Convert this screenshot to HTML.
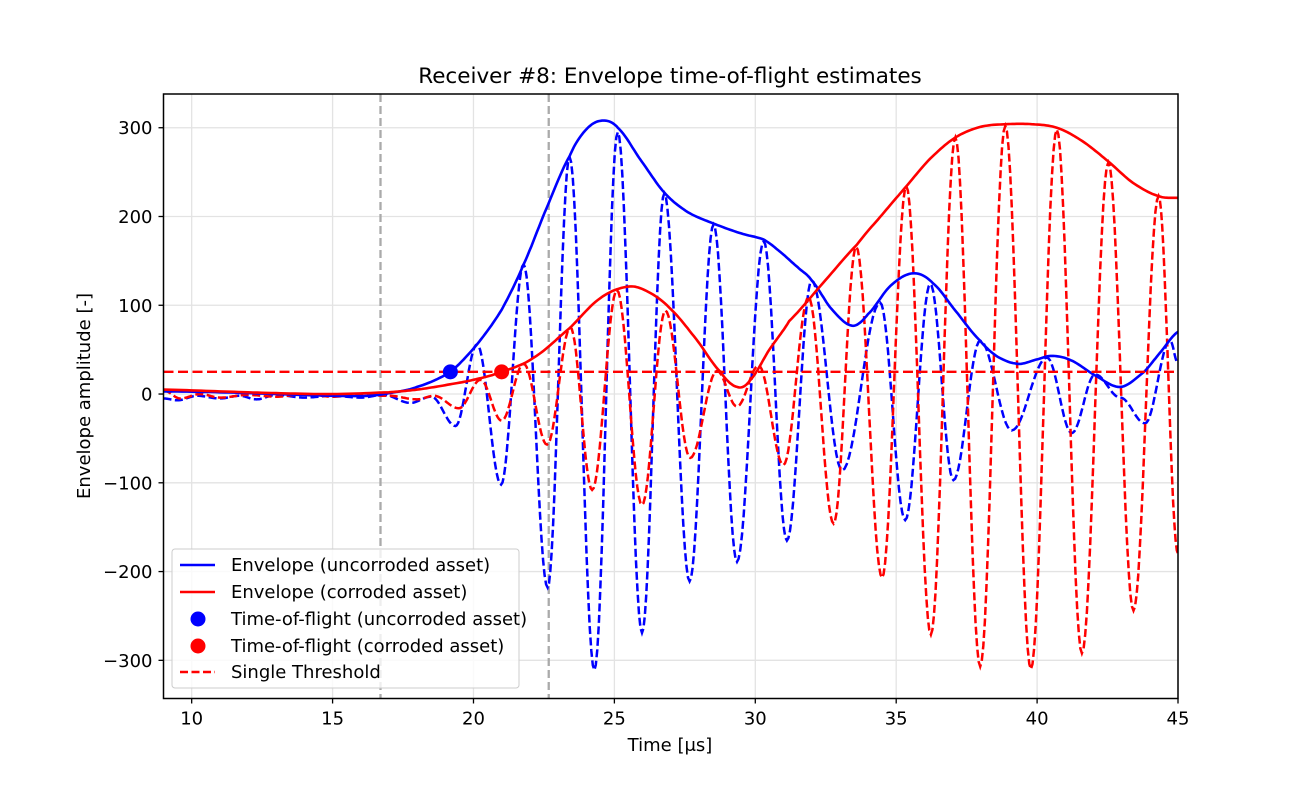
<!DOCTYPE html>
<html><head><meta charset="utf-8"><style>
body{margin:0;background:#fff}
svg text{font-family:"DejaVu Sans","Liberation Sans",sans-serif;fill:#000}
</style></head><body>
<svg id="chart" width="1309" height="785" viewBox="0 0 1309 785" xmlns="http://www.w3.org/2000/svg">
<rect width="1309" height="785" fill="#fff"/>
<g id="grid"></g>
<g id="plot"></g>
<g id="axes"></g>
<text x="670" y="83" text-anchor="middle" font-size="21.5">Receiver #8: Envelope time-of-flight estimates</text>
<text x="670" y="751" text-anchor="middle" font-size="18">Time [μs]</text>
<text transform="translate(90,396) rotate(-90)" text-anchor="middle" font-size="18">Envelope amplitude [-]</text>
<g id="legend">
<rect x="172" y="549" width="347" height="139" rx="3" fill="#fff" fill-opacity="0.8" stroke="#ccc"/>
<g><line x1="180" y1="565" x2="215" y2="565" stroke="#0000ff" stroke-width="2.5"/><text x="231" y="571" font-size="18">Envelope (uncorroded asset)</text></g>
<g><line x1="180" y1="592" x2="215" y2="592" stroke="#ff0000" stroke-width="2.5"/><text x="231" y="598" font-size="18">Envelope (corroded asset)</text></g>
<g><circle cx="198" cy="619" r="7.5" fill="#0000ff"/><text x="231" y="625" font-size="18">Time-of-flight (uncorroded asset)</text></g>
<g><circle cx="198" cy="646" r="7.5" fill="#ff0000"/><text x="231" y="652" font-size="18">Time-of-flight (corroded asset)</text></g>
<g><line x1="180" y1="672" x2="215" y2="672" stroke="#ff0000" stroke-width="2.5" stroke-dasharray="8,3.5"/><text x="231" y="678" font-size="18">Single Threshold</text></g>
</g>
</svg>
<script>
const xTicks=[10,15,20,25,30,35,40,45];
const yTicks=[-300,-200,-100,0,100,200,300];
const threshold=25;
const windowLines=[16.7,22.67];
const tofUncorroded=[19.18,25];
const tofCorroded=[21.0,25];
const envBlue=[[9,3],[11,2],[13,0],[15,-2],[16.3,-2],[17,1],[18,8],[19.18,25],[20.13,56],[21,95],[21.78,146],[22.6,210],[23.41,268],[24,298],[24.56,308],[25.12,300],[25.9,265],[26.77,227],[27.6,205],[28.52,192],[29.5,181],[30.3,174],[30.89,160],[31.5,143],[32,128],[32.7,96],[33.43,77],[34,90],[34.8,122],[35.6,136],[36.3,125],[37.2,90],[37.98,60],[38.6,42],[39.33,34],[40,39],[40.52,43],[41.2,38],[42,22],[42.95,8],[43.8,25],[44.4,48],[45,70]];
const envRed=[[9,5],[11,3],[13,1],[15,0],[17,2],[18,5],[19,10],[20,16],[21,25],[22.14,41],[23.44,75],[24.5,108],[25.5,121],[26.2,115],[26.99,96],[27.9,62],[28.76,25],[29.35,8],[29.8,15],[30.5,50],[31.2,82],[32.4,125],[33.6,168],[34.5,202],[35.36,234],[36.2,265],[37.1,289],[38,301],[38.9,304],[39.8,304],[40.7,300],[41.6,285],[42.53,262],[43.4,238],[44.31,223],[45,221]];
const sigBlue=[[9,-5],[9.5,-7],[10.2,-2],[11,-5],[11.7,-2],[12.3,-6],[13,-1],[14,-4],[15,-2],[16,-4],[16.8,-1],[17.76,-10],[18.5,-3],[19.36,-36],[20.13,56],[20.98,-102],[21.78,146],[22.63,-218],[23.41,267],[24.29,-311],[25.12,295],[25.98,-269],[26.77,226],[27.67,-211],[28.52,191],[29.35,-189],[30.3,172],[31.12,-165],[32.0,128],[33.08,-86],[34.43,103],[35.32,-142],[36.21,124],[37.03,-97],[37.98,60],[39.1,-41],[40.35,41],[41.23,-44],[42.06,22],[42.95,-4],[43.83,-33],[44.72,60],[45,35]];
const sigRed=[[9,4],[9.6,-5],[10.3,0],[11,-4],[12,-1],[13,-3],[14,0],[15,-3],[16,-1],[17,-2],[18,-6],[18.6,-2],[19.48,-16],[20.25,16],[21.0,-30],[21.78,34],[22.61,-57],[23.44,75],[24.21,-108],[25.09,117],[25.98,-125],[26.81,94],[27.69,-72],[28.64,26],[29.35,-14],[30.12,32],[31.0,-80],[31.89,109],[32.78,-146],[33.58,166],[34.5,-207],[35.36,234],[36.23,-271],[37.1,289],[37.98,-307],[38.87,302],[39.78,-310],[40.7,298],[41.59,-292],[42.53,261],[43.42,-244],[44.31,223],[45,-180]];

const X0=163.5,X1=1178,Y0=94,Y1=698.5,xmin=9,xmax=45,ymin=-343,ymax=338;
const sx=t=>X0+(t-xmin)/(xmax-xmin)*(X1-X0);
const sy=v=>Y1-(v-ymin)/(ymax-ymin)*(Y1-Y0);
const NS='http://www.w3.org/2000/svg';
function mk(tag,attrs,parent){const e=document.createElementNS(NS,tag);for(const k in attrs)e.setAttribute(k,attrs[k]);parent.appendChild(e);return e;}
const grid=document.getElementById('grid'),plot=document.getElementById('plot'),axes=document.getElementById('axes');
const defs=mk('defs',{},plot);const cp=mk('clipPath',{id:'clip'},defs);mk('rect',{x:X0,y:Y0,width:X1-X0,height:Y1-Y0},cp);
xTicks.forEach(t=>{const l=mk('line',{x1:sx(t),x2:sx(t),y1:Y0,y2:Y1,stroke:'#e3e3e3','stroke-width':1.3},grid);


const tk=mk('line',{x1:sx(t),x2:sx(t),y1:Y1,y2:Y1+5,stroke:'#000','stroke-width':1.3},axes);


const tx=mk('text',{x:sx(t),y:Y1+26,'text-anchor':'middle','font-size':18},axes);tx.textContent=t;

});
yTicks.forEach(v=>{const l=mk('line',{x1:X0,x2:X1,y1:sy(v),y2:sy(v),stroke:'#e3e3e3','stroke-width':1.3},grid);


const tk=mk('line',{x1:X0-5,x2:X0,y1:sy(v),y2:sy(v),stroke:'#000','stroke-width':1.3},axes);


const tx=mk('text',{x:X0-11,y:sy(v)+6.5,'text-anchor':'end','font-size':18},axes);tx.textContent=(v<0?'\u2212'+(-v):v);

});
const g=mk('g',{'clip-path':'url(#clip)'},plot);
windowLines.forEach(t=>{const l=mk('line',{x1:sx(t),x2:sx(t),y1:Y0,y2:Y1,stroke:'#aaaaaa','stroke-width':2.3,'stroke-dasharray':'8,4'},g);

});
function catmull(pts){const out=[];for(let i=0;i<pts.length-1;i++){const p0=pts[Math.max(0,i-1)],p1=pts[i],p2=pts[i+1],p3=pts[Math.min(pts.length-1,i+2)];
for(let k=0;k<12;k++){const s=k/12,s2=s*s,s3=s2*s;const f=(a,b,c,d)=>0.5*((2*b)+(-a+c)*s+(2*a-5*b+4*c-d)*s2+(-a+3*b-3*c+d)*s3);
out.push([sx(p1[0])+(sx(p2[0])-sx(p1[0]))*s,sy(f(p0[1],p1[1],p2[1],p3[1]))]);}}
const L=pts[pts.length-1];out.push([sx(L[0]),sy(L[1])]);return out;}
function cosine(pts){const out=[];for(let i=0;i<pts.length-1;i++){const a=pts[i],b=pts[i+1];for(let k=0;k<16;k++){const s=k/16,w=(1-Math.cos(Math.PI*s))/2;
out.push([sx(a[0]+(b[0]-a[0])*s),sy(a[1]+(b[1]-a[1])*w)]);}}const L=pts[pts.length-1];out.push([sx(L[0]),sy(L[1])]);return out;}
const d=arr=>'M'+arr.map(p=>p[0].toFixed(1)+','+p[1].toFixed(1)).join('L');
let p;
p=mk('path',{d:d(cosine(sigBlue)),fill:'none',stroke:'#0000ff','stroke-width':2.5,'stroke-dasharray':'8,3.5'},g);


p=mk('path',{d:d(cosine(sigRed)),fill:'none',stroke:'#ff0000','stroke-width':2.5,'stroke-dasharray':'8,3.5'},g);


p=mk('path',{d:d(catmull(envBlue)),fill:'none',stroke:'#0000ff','stroke-width':2.6},g);


p=mk('path',{d:d(catmull(envRed)),fill:'none',stroke:'#ff0000','stroke-width':2.6},g);


p=mk('line',{x1:X0,x2:X1,y1:sy(threshold),y2:sy(threshold),stroke:'#ff0000','stroke-width':2.4,'stroke-dasharray':'10,4.5'},g);


p=mk('circle',{cx:sx(tofUncorroded[0]),cy:sy(tofUncorroded[1]),r:7.5,fill:'#0000ff'},g);


p=mk('circle',{cx:sx(tofCorroded[0]),cy:sy(tofCorroded[1]),r:7.5,fill:'#ff0000'},g);


p=mk('rect',{x:X0,y:Y0,width:X1-X0,height:Y1-Y0,fill:'none',stroke:'#000','stroke-width':1.5},axes);


</script>
</body></html>
